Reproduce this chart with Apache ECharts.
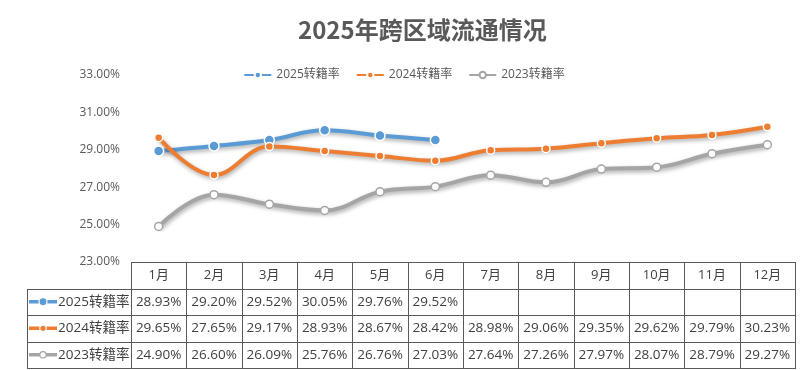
<!DOCTYPE html>
<html><head><meta charset="utf-8">
<script src="https://cdn.jsdelivr.net/npm/echarts@6/dist/echarts.min.js"></script>
<style>html,body{margin:0;padding:0;background:#fff}#c{width:808px;height:370px}</style>
</head><body><div id="c"></div>
<script>
const months = ['1月','2月','3月','4月','5月','6月','7月','8月','9月','10月','11月','12月'];
const names = ['2025转籍率','2024转籍率','2023转籍率'];
const s2025 = [28.93, 29.20, 29.52, 30.05, 29.76, 29.52, null, null, null, null, null, null];
const s2024 = [29.65, 27.65, 29.17, 28.93, 28.67, 28.42, 28.98, 29.06, 29.35, 29.62, 29.79, 30.23];
const s2023 = [24.90, 26.60, 26.09, 25.76, 26.76, 27.03, 27.64, 27.26, 27.97, 28.07, 28.79, 29.27];
const colors = ['#5B9BD5', '#ED7D31', '#A5A5A5'];

const G = {left: 131, right: 795, top: 75, bottom: 262};
const rowH = 26.5;
const labelLeft = 27;
const font = '"Open Sans","Noto Sans CJK SC",sans-serif';
const seriesData = [s2025, s2024, s2023];

const chart = echarts.init(document.getElementById('c'));

function buildTable() {
  const els = [];
  const colW = (G.right - G.left) / months.length;
  const lineStyle = {stroke: '#595959', lineWidth: 1};
  const tableBottom = G.bottom + rowH * 4;
  els.push({type: 'line', shape: {x1: G.left, y1: G.bottom + 0.5, x2: G.right, y2: G.bottom + 0.5}, style: lineStyle});
  for (let r = 1; r <= 4; r++) {
    const y = Math.round(G.bottom + rowH * r) + 0.5;
    els.push({type: 'line', shape: {x1: labelLeft, y1: y, x2: G.right, y2: y}, style: lineStyle});
  }
  els.push({type: 'line', shape: {x1: labelLeft + 0.5, y1: Math.round(G.bottom + rowH), x2: labelLeft + 0.5, y2: Math.round(tableBottom) + 1}, style: lineStyle});
  for (let c = 0; c <= months.length; c++) {
    const x = Math.round(G.left + colW * c) + 0.5;
    els.push({type: 'line', shape: {x1: x, y1: G.bottom, x2: x, y2: Math.round(tableBottom) + 1}, style: lineStyle});
  }
  months.forEach((m, i) => {
    els.push({type: 'text', x: G.left + colW * (i + 0.5), y: G.bottom + rowH / 2,
      style: {text: m, fill: '#404040', font: '13px ' + font, align: 'center', verticalAlign: 'middle'}});
  });
  seriesData.forEach((arr, r) => {
    const cy = G.bottom + rowH * (r + 1.5);
    els.push({type: 'line', shape: {x1: labelLeft + 2, y1: cy, x2: labelLeft + 30, y2: cy},
      style: {stroke: colors[r], lineWidth: 3.5}});
    els.push({type: 'circle', shape: {cx: labelLeft + 16, cy: cy, r: r === 0 ? 4 : 3.2},
      style: {fill: r === 2 ? '#fff' : colors[r], stroke: r === 2 ? colors[r] : '#fff', lineWidth: 1.2}});
    els.push({type: 'text', x: labelLeft + 31, y: cy,
      style: {text: names[r], fill: '#404040', font: '13.5px ' + font, align: 'left', verticalAlign: 'middle'}});
    arr.forEach((v, i) => {
      if (v == null) return;
      els.push({type: 'text', x: G.left + colW * (i + 0.5), y: cy,
        style: {text: v.toFixed(2) + '%', fill: '#404040', font: '13.5px ' + font, align: 'center', verticalAlign: 'middle'}});
    });
  });
  return els;
}

const shadow = {shadowColor: 'rgba(0,0,0,0.35)', shadowBlur: 4, shadowOffsetX: 1, shadowOffsetY: 2};

chart.setOption({
  animation: false,
  backgroundColor: '#fff',
  title: {text: '2025年跨区域流通情况', left: 293, top: 13,
    textStyle: {fontSize: 24, fontWeight: 'bold', color: '#595959', fontFamily: '"Noto Sans CJK SC",sans-serif'}},
  legend: {top: 64, left: 'center', itemGap: 16, itemWidth: 27, itemHeight: 8,
    textStyle: {color: '#595959', fontSize: 12, fontFamily: font}, data: names},
  grid: {left: G.left, right: 808 - G.right, top: G.top, bottom: 370 - G.bottom, containLabel: false},
  xAxis: {type: 'category', data: months, boundaryGap: true,
    axisLine: {show: false}, axisTick: {show: false}, axisLabel: {show: false}},
  yAxis: {type: 'value', min: 23, max: 33, interval: 2,
    axisLine: {show: false}, axisTick: {show: false}, splitLine: {show: false},
    axisLabel: {color: '#595959', fontSize: 12, fontFamily: font, margin: 11,
      formatter: v => v.toFixed(2) + '%'}},
  series: [
    {name: names[0], type: 'line', data: s2025, smooth: 0.4, symbol: 'circle', symbolSize: 10,
      lineStyle: Object.assign({width: 4, color: colors[0]}, shadow),
      itemStyle: {color: colors[0], borderColor: '#fff', borderWidth: 1.5}},
    {name: names[1], type: 'line', data: s2024, smooth: 0.4, symbol: 'circle', symbolSize: 8,
      lineStyle: Object.assign({width: 4, color: colors[1]}, shadow),
      itemStyle: {color: colors[1], borderColor: '#fff', borderWidth: 1.5}},
    {name: names[2], type: 'line', data: s2023, smooth: 0.4, symbol: 'circle', symbolSize: 8,
      lineStyle: Object.assign({width: 4, color: colors[2]}, shadow),
      itemStyle: {color: '#fff', borderColor: colors[2], borderWidth: 1.5}}
  ],
  graphic: buildTable()
});
</script></body></html>
